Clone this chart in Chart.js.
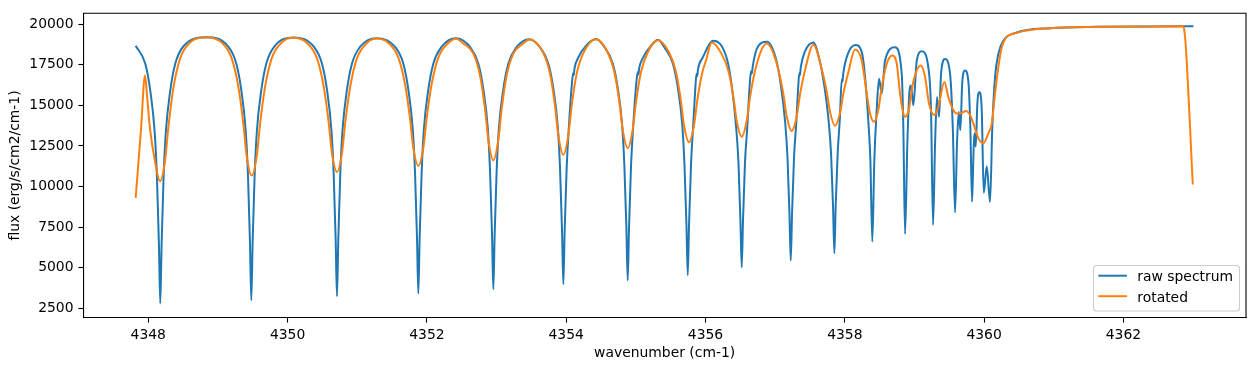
<!DOCTYPE html>
<html><head><meta charset="utf-8">
<script src="https://cdn.jsdelivr.net/npm/chart.js@4.4.1/dist/chart.umd.min.js"></script>
<style>html,body{margin:0;padding:0;background:#fff;overflow:hidden}#wrap{width:1255px;height:371px;position:relative}</style>
</head><body><div id="wrap"><canvas id="c" width="1255" height="371"></canvas></div>
<script>
const seriesNames = ['raw spectrum', 'rotated'];
const xTickValues = [4348, 4350, 4352, 4354, 4356, 4358, 4360, 4362];
const yTickValues = [2500, 5000, 7500, 10000, 12500, 15000, 17500, 20000];

const rawWavenumber = [
4347.819,4347.957,4348.028,4348.093,4348.125,4348.153,4348.172,4348.191,4348.219,4348.251,4348.316,4348.387,4348.502,4348.839,
4349.149,4349.264,4349.335,4349.400,4349.432,4349.460,4349.479,4349.498,4349.526,4349.558,4349.623,4349.694,4349.809,4350.082,
4350.379,4350.494,4350.565,4350.630,4350.662,4350.690,4350.709,4350.728,4350.756,4350.788,4350.853,4350.924,4351.039,4351.279,
4351.547,4351.662,4351.733,4351.798,4351.830,4351.858,4351.877,4351.896,4351.924,4351.956,4352.021,4352.092,4352.207,4352.418,
4352.624,4352.739,4352.810,4352.875,4352.907,4352.935,4352.954,4352.973,4353.001,4353.033,4353.098,4353.169,4353.284,4353.470,
4353.629,4353.744,4353.815,4353.880,4353.912,4353.940,4353.959,4353.978,4354.006,4354.038,4354.081,4354.100,4354.108,4354.120,4354.174,4354.289,4354.428,
4354.553,4354.668,4354.739,4354.804,4354.836,4354.864,4354.883,4354.902,4354.930,4354.962,4355.005,4355.027,4355.037,4355.048,4355.098,4355.213,4355.318,
4355.415,4355.530,4355.601,4355.666,4355.698,4355.726,4355.745,4355.764,4355.792,4355.824,4355.853,4355.871,4355.881,4355.893,4355.960,4356.112,
4356.305,4356.376,4356.441,4356.473,4356.501,4356.520,4356.539,4356.567,4356.599,4356.635,4356.653,4356.664,4356.678,4356.735,4356.883,
4357.009,4357.080,4357.145,4357.177,4357.205,4357.224,4357.243,4357.271,4357.303,4357.332,4357.347,4357.356,4357.368,4357.425,4357.548,
4357.635,4357.706,4357.771,4357.803,4357.831,4357.850,4357.869,4357.897,4357.929,4357.956,4357.965,4357.979,4358.037,4358.154,
4358.243,4358.290,4358.338,4358.367,4358.395,4358.424,4358.458,4358.491,4358.530,4358.578,4358.721,
4358.817,4358.840,4358.865,4358.898,4358.926,4358.951,4358.984,4359.033,4359.105,
4359.199,4359.238,4359.267,4359.296,4359.324,4359.353,4359.382,4359.439,
4359.511,4359.550,4359.583,4359.611,4359.636,4359.659,4359.687,4359.726,
4359.774,4359.802,4359.827,4359.845,4359.860,4359.880,4359.903,4359.932,
4359.966,4359.995,4360.038,
4360.085,4360.118,4360.157,4360.204,4360.276,4360.469,4360.947,4361.665,4362.382,4363.004
];
const rawFlux = [
18680,17560,15920,13290,10500,6400,2790,6400,10500,13290,15920,17560,18630,19200,
18620,17570,15950,13360,10600,6550,2990,6550,10600,13360,15950,17570,18620,19190,
18600,17570,15980,13430,10720,6740,3230,6740,10720,13430,15980,17570,18600,19140,
18590,17570,15990,13470,10800,6860,3400,6860,10800,13470,15990,17570,18590,19140,
18570,17570,16020,13550,10920,7060,3660,7060,10920,13550,16020,17570,18570,19080,
18550,17570,16060,13640,11070,7290,3970,7290,11070,13640,16300,17000,16850,17300,17950,18700,19090,
18570,17600,16110,13730,11200,7480,4210,7480,11200,13730,16300,17050,16900,17300,17900,18650,19050,
18540,17600,16140,13820,11350,7720,4520,7720,11350,13820,16000,16950,16800,17250,17950,18980,
17900,16230,13600,11500,8000,5020,8000,11500,13600,16300,17100,16950,17400,18470,18920,
17900,16300,13900,11800,8400,5430,8400,11800,13900,16200,17000,16850,17350,18300,18880,
17850,16200,13900,12000,8800,5880,8800,12000,14200,16600,16450,17000,18100,18720,
18300,16800,14000,11650,6600,11650,14710,16640,15720,17770,18580,
16960,13690,7070,12670,15720,16230,15010,17760,18330,
17350,14710,7620,12670,15520,14300,16960,17860,
16960,13690,8390,12670,14600,13480,16470,17150,
16470,13690,9060,11650,13280,12470,15110,15830,
14710,9610,11240,
9040,13690,16740,18170,18990,19490,19760,19840,19870,19880
];

const rotWavenumber = [
4347.819,4347.895,4347.953,4347.985,4348.024,4348.096,4348.168,4348.240,4348.287,4348.359,4348.455,4348.599,4348.839,
4349.054,4349.198,4349.294,4349.366,4349.413,4349.485,4349.557,4349.604,4349.676,4349.772,4349.916,4350.082,
4350.278,4350.422,4350.518,4350.590,4350.637,4350.709,4350.781,4350.828,4350.900,4350.996,4351.140,4351.279,
4351.446,4351.590,4351.686,4351.758,4351.805,4351.877,4351.949,4351.996,4352.068,4352.164,4352.308,4352.418,
4352.523,4352.667,4352.763,4352.835,4352.882,4352.954,4353.026,4353.073,4353.145,4353.241,4353.385,4353.470,
4353.672,4353.768,4353.840,4353.887,4353.959,4354.031,4354.078,4354.150,4354.246,4354.428,
4354.596,4354.692,4354.764,4354.811,4354.883,4354.955,4355.002,4355.074,4355.170,4355.318,
4355.476,4355.572,4355.644,4355.691,4355.763,4355.835,4355.882,4355.954,4356.010,4356.089,
4356.233,4356.329,4356.401,4356.448,4356.520,4356.592,4356.639,4356.711,4356.807,4356.879,
4356.951,4357.047,4357.119,4357.166,4357.238,4357.310,4357.357,4357.429,4357.548,
4357.669,4357.741,4357.788,4357.860,4357.932,4357.979,4358.051,4358.147,
4358.243,4358.315,4358.362,4358.420,4358.481,4358.530,4358.602,4358.682,4358.746,4358.793,4358.840,4358.865,4358.912,4358.984,
4359.090,4359.152,4359.209,4359.285,4359.343,4359.429,4359.486,4359.558,4359.607,4359.679,4359.741,4359.798,4359.845,4359.917,
4359.989,4360.061,4360.110,4360.157,4360.204,4360.253,4360.301,4360.469,4360.947,4361.665,4362.382,4362.861,4362.875,4362.895,4362.996
];
const rotFlux = [
9300,13500,16850,15450,13580,11550,10320,11550,13580,16030,17860,18880,19190,
18880,17900,16120,13820,11860,10670,11860,13820,16120,17900,18880,19170,
18850,17900,16170,13940,12050,10890,12050,13940,16170,17900,18850,19120,
18850,17940,16300,14180,12380,11280,12380,14180,16300,17940,18850,19110,
18820,18190,16840,14750,12880,11610,12880,14750,16840,18190,18820,19060,
18220,16940,14950,13170,11960,13170,14950,16940,18220,19080,
18260,17060,15180,13500,12360,13500,15180,17060,18260,19020,
18270,17130,15370,13790,12730,13770,15310,17030,17800,18880,
18160,17120,15500,14050,13070,14050,15500,17120,18450,18820,
18450,17170,15670,14330,13420,14330,15670,17170,18740,
17240,15850,14600,13750,14550,15720,17040,18450,
17760,15720,14500,13990,14710,16140,17560,18070,17560,15720,14500,14300,14600,16470,
17460,16760,15110,14400,14910,16440,15520,14710,14500,14540,14660,14400,13890,12970,
12670,13280,13890,15720,17350,18580,19080,19470,19760,19840,19870,19880,19600,18700,10120
];

const BLUE = '#1f77b4', ORANGE = '#ff7f0e';
const FONT = {family: "'DejaVu Sans', sans-serif", size: 13.9};

function pairs(xs, ys) { return xs.map((x, i) => ({x: x, y: ys[i]})); }

const framePlugin = {
  id: 'frame',
  afterDatasetsDraw(chart) {
    const {ctx, chartArea: a} = chart;
    ctx.save();
    ctx.strokeStyle = '#000';
    ctx.lineWidth = 1.1;
    ctx.beginPath();
    ctx.moveTo(a.left, a.top); ctx.lineTo(a.right, a.top); ctx.lineTo(a.right, a.bottom);
    ctx.stroke();
    ctx.restore();
  }
};

const legendPlugin = {
  id: 'mplLegend',
  afterDraw(chart) {
    const ctx = chart.ctx;
    const bx = 1093.5, by = 265.5, bw = 146, bh = 45.5, r = 3;
    ctx.save();
    ctx.beginPath();
    ctx.moveTo(bx + r, by); ctx.lineTo(bx + bw - r, by); ctx.quadraticCurveTo(bx + bw, by, bx + bw, by + r);
    ctx.lineTo(bx + bw, by + bh - r); ctx.quadraticCurveTo(bx + bw, by + bh, bx + bw - r, by + bh);
    ctx.lineTo(bx + r, by + bh); ctx.quadraticCurveTo(bx, by + bh, bx, by + bh - r);
    ctx.lineTo(bx, by + r); ctx.quadraticCurveTo(bx, by, bx + r, by);
    ctx.closePath();
    ctx.fillStyle = 'rgba(255,255,255,0.8)';
    ctx.fill();
    ctx.strokeStyle = '#cccccc';
    ctx.lineWidth = 1.1;
    ctx.stroke();
    const rows = [275.7, 296.2];
    chart.data.datasets.forEach((ds, i) => {
      const y = rows[i];
      ctx.strokeStyle = ds.borderColor;
      ctx.lineWidth = 2;
      ctx.beginPath(); ctx.moveTo(1098.3, y); ctx.lineTo(1126.9, y); ctx.stroke();
      ctx.fillStyle = '#000';
      ctx.font = "13.9px 'DejaVu Sans', sans-serif";
      ctx.textBaseline = 'alphabetic';
      ctx.textAlign = 'left';
      ctx.fillText(ds.label, 1137.3, y + 5.3);
    });
    ctx.restore();
  }
};

new Chart(document.getElementById('c'), {
  type: 'line',
  data: {
    datasets: [
      {label: seriesNames[0], data: pairs(rawWavenumber, rawFlux), borderColor: BLUE, order: 2},
      {label: seriesNames[1], data: pairs(rotWavenumber, rotFlux), borderColor: ORANGE, order: 1}
    ]
  },
  options: {
    responsive: false,
    devicePixelRatio: 1,
    animation: false,
    parsing: true,
    layout: {padding: {top: 10.7, right: 9, left: 0, bottom: 0}},
    elements: {
      point: {radius: 0, hoverRadius: 0},
      line: {borderWidth: 2, cubicInterpolationMode: 'monotone', fill: false, borderJoinStyle: 'round', borderCapStyle: 'butt'}
    },
    plugins: {legend: {display: false}, tooltip: {enabled: false}},
    scales: {
      x: {
        type: 'linear', position: 'bottom', min: 4347.067, max: 4363.76,
        afterBuildTicks: s => { s.ticks = xTickValues.map(v => ({value: v})); },
        afterFit: s => { s.height = 53.3; },
        ticks: {font: FONT, color: '#000', padding: 4.4, maxRotation: 0, autoSkip: false, callback: v => String(v)},
        grid: {drawOnChartArea: false, drawTicks: true, tickLength: 4.9, tickWidth: 1.1, tickColor: '#000'},
        border: {display: true, color: '#000', width: 1.1},
        title: {display: true, text: 'wavenumber (cm-1)', font: FONT, color: '#000', padding: {top: 0, bottom: 9.7}}
      },
      y: {
        type: 'linear', position: 'left', min: 1910, max: 20680,
        afterBuildTicks: s => { s.ticks = yTickValues.map(v => ({value: v})); },
        afterFit: s => { s.width = 83.3; },
        ticks: {font: FONT, color: '#000', padding: 4.9, autoSkip: false, callback: v => String(v)},
        grid: {drawOnChartArea: false, drawTicks: true, tickLength: 4.9, tickWidth: 1.1, tickColor: '#000'},
        border: {display: true, color: '#000', width: 1.1},
        title: {display: true, text: 'flux (erg/s/cm2/cm-1)', font: FONT, color: '#000', padding: {top: 6.7, bottom: 0}}
      }
    }
  },
  plugins: [framePlugin, legendPlugin]
});
</script>
</body></html>
